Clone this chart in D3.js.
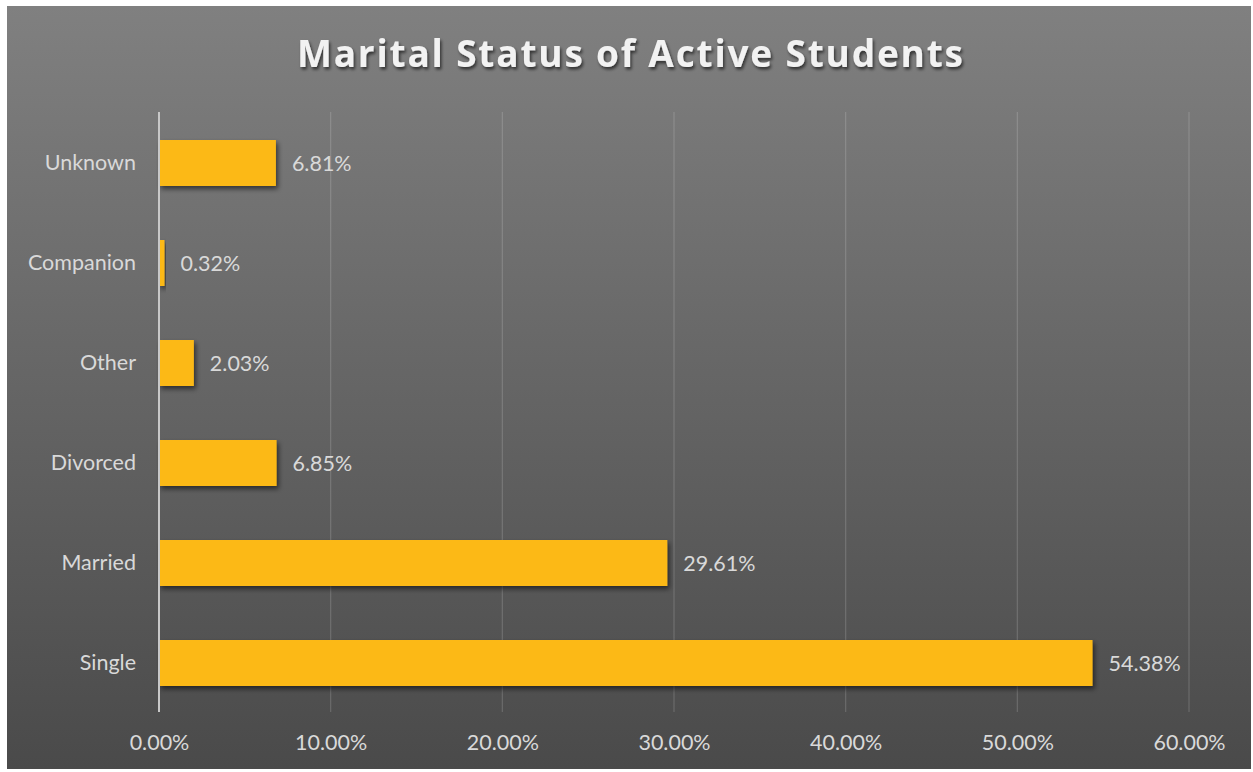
<!DOCTYPE html>
<html>
<head>
<meta charset="utf-8">
<script src="https://cdn.jsdelivr.net/npm/d3@7"></script>
<style>
  html, body { margin: 0; padding: 0; background: #ffffff; }
  svg { display: block; }
</style>
</head>
<body>
<script>
// Marital status breakdown (share of active students, %)
const categories = ["Single", "Married", "Divorced", "Other", "Companion", "Unknown"];
const values = [54.38, 29.61, 6.85, 2.03, 0.32, 6.81];
const tickValues = [0, 10, 20, 30, 40, 50, 60];
const title = "Marital Status of Active Students";

const W = 1253, H = 772;
const frame = { x: 7, y: 6, w: 1244, h: 763 };
const plot = { left: 159, right: 1189, top: 112, bottom: 712 };
const labelFont = "Lato, 'Open Sans', sans-serif";
const labelSize = 21.5;

const svg = d3.select("body").append("svg").attr("width", W).attr("height", H);
const defs = svg.append("defs");

const grad = defs.append("linearGradient").attr("id", "bg")
  .attr("x1", 0).attr("y1", 0).attr("x2", 0).attr("y2", 1);
grad.append("stop").attr("offset", "0%").attr("stop-color", "#808080");
grad.append("stop").attr("offset", "100%").attr("stop-color", "#4a4a4a");

const barShadow = defs.append("filter").attr("id", "barShadow")
  .attr("x", "-10%").attr("y", "-30%").attr("width", "130%").attr("height", "180%");
barShadow.append("feDropShadow").attr("dx", 2).attr("dy", 3).attr("stdDeviation", 2.5)
  .attr("flood-color", "#000").attr("flood-opacity", 0.55);

const titleShadow = defs.append("filter").attr("id", "titleShadow")
  .attr("x", "-5%").attr("y", "-30%").attr("width", "110%").attr("height", "170%");
titleShadow.append("feDropShadow").attr("dx", 1.5).attr("dy", 2.5).attr("stdDeviation", 1.5)
  .attr("flood-color", "#000").attr("flood-opacity", 0.6);

svg.append("rect").attr("x", frame.x).attr("y", frame.y)
  .attr("width", frame.w).attr("height", frame.h).attr("fill", "url(#bg)");

const x = d3.scaleLinear().domain([0, 60]).range([plot.left, plot.right]);
const y = d3.scaleBand().domain(categories).range([plot.bottom, plot.top]).paddingInner(0.54).paddingOuter(0.27);

// vertical gridlines
svg.append("g").selectAll("line").data(tickValues.filter(d => d > 0)).join("line")
  .attr("x1", d => x(d)).attr("x2", d => x(d))
  .attr("y1", plot.top).attr("y2", plot.bottom)
  .attr("stroke", "#ffffff").attr("stroke-opacity", 0.16).attr("stroke-width", 1.2);

// x tick labels
const xAxis = d3.axisBottom(x).tickValues(tickValues).tickSize(0).tickPadding(0)
  .tickFormat(d => d3.format(".2f")(d) + "%");
const gx = svg.append("g").attr("transform", `translate(0,${plot.bottom + 23})`).call(xAxis);
gx.select(".domain").remove();
gx.selectAll("text").attr("fill", "#d9d9d9").attr("font-family", labelFont)
  .attr("font-size", labelSize).attr("dy", "0.71em");

// bars
svg.append("g").selectAll("rect").data(categories).join("rect")
  .attr("x", x(0))
  .attr("y", d => y(d) + 1)
  .attr("width", (d, i) => x(values[i]) - x(0))
  .attr("height", y.bandwidth())
  .attr("fill", "#fcb914")
  .attr("filter", "url(#barShadow)");

// category axis line
svg.append("line").attr("x1", x(0)).attr("x2", x(0))
  .attr("y1", plot.top).attr("y2", plot.bottom)
  .attr("stroke", "#c8c8c8").attr("stroke-width", 2);

// category labels
const yAxis = d3.axisLeft(y).tickSize(0).tickPadding(23);
const gy = svg.append("g").attr("transform", `translate(${x(0)},1)`).call(yAxis);
gy.select(".domain").remove();
gy.selectAll("text").attr("fill", "#d9d9d9").attr("font-family", labelFont)
  .attr("font-size", labelSize);

// value labels
svg.append("g").selectAll("text").data(categories).join("text")
  .attr("x", (d, i) => x(values[i]) + 16)
  .attr("y", d => y(d) + 1 + y.bandwidth() / 2)
  .attr("dy", "0.35em")
  .attr("fill", "#d9d9d9")
  .attr("font-family", labelFont)
  .attr("font-size", labelSize)
  .text((d, i) => d3.format(".2f")(values[i]) + "%");

// title
svg.append("text")
  .attr("x", 630).attr("y", 67)
  .attr("text-anchor", "middle")
  .attr("fill", "#f2f2f2")
  .attr("font-family", "'Open Sans', sans-serif")
  .attr("font-weight", 700)
  .attr("font-size", 37)
  .attr("textLength", 666)
  .attr("lengthAdjust", "spacing")
  .attr("filter", "url(#titleShadow)")
  .text(title);
</script>
</body>
</html>
